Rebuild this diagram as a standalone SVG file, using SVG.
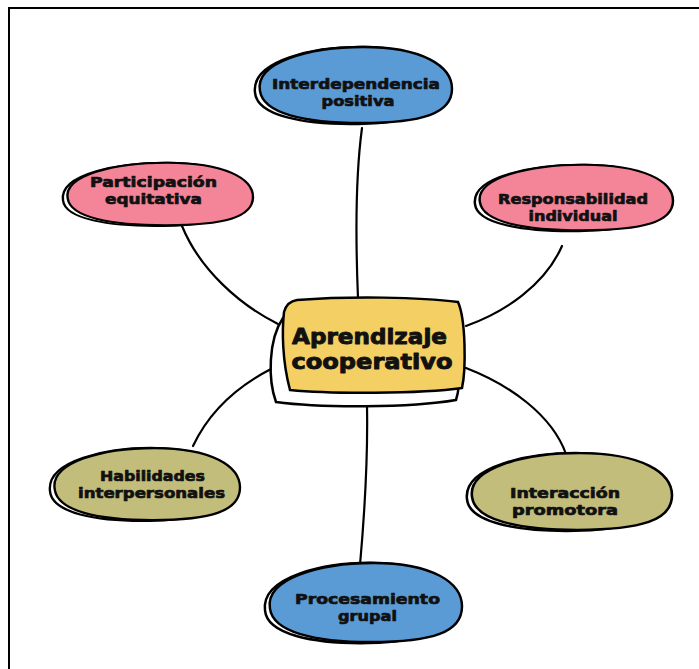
<svg xmlns="http://www.w3.org/2000/svg" width="699" height="669" viewBox="0 0 699 669">
<style>
.bg{fill:#ffffff}
.frame{fill:none;stroke:#000;stroke-width:2}
.back{fill:#fff;stroke:#000;stroke-width:2.5}
.front{stroke:#000;stroke-width:2.5}
.blue{fill:#5b9bd5}
.pink{fill:#f48599}
.olive{fill:#c2bd7a}
.yellow{fill:#f4cf63}
.conn path{fill:none;stroke:#000;stroke-width:2.2;stroke-linecap:round}
text{font-family:"DejaVu Sans","Liberation Sans",sans-serif;font-weight:bold;fill:#111;stroke:#111;stroke-width:0.7;stroke-linejoin:round;text-anchor:middle}
.lbl{font-size:14.5px}
.main{font-size:21px;stroke-width:0.9}
</style>
<defs>
<path id="blob" d="M -95,6 C -100,-24 -45,-40 10,-40 C 70,-40 100,-20 100,4 C 100,30 70,40 8,40 C -50,40 -92,30 -95,6 Z"/>
<path id="blobBack" d="M -100,8 C -104,-26 -40,-41 12,-40 C 60,-39 92,-24 92,0 C 92,28 60,40 5,41 C -52,42 -98,32 -100,8 Z"/>
</defs>
<rect class="bg" x="0" y="0" width="699" height="669"/>
<rect class="frame" x="9" y="8" width="720" height="700"/>
<g class="conn" id="connectors">
<path d="M 362,128 C 355,180 356,250 358,298"/>
<path d="M 182,226 C 200,270 240,305 278,324"/>
<path d="M 562,246 C 545,285 505,312 466,326"/>
<path d="M 193,446 C 210,410 240,385 271,369"/>
<path d="M 566,454 C 552,415 510,385 466,368"/>
<path d="M 367,406 C 368,460 364,520 360,565"/>
</g>
<g id="n-interdependencia">
<use href="#blobBack" class="back" transform="translate(353.5,85) scale(0.985,0.95)"/>
<use href="#blob" class="front blue" transform="translate(353.5,85) scale(0.985,0.95)"/>
<text class="lbl" x="356" y="89" textLength="168" lengthAdjust="spacingAndGlyphs">Interdependencia</text>
<text class="lbl" x="358" y="106" textLength="73" lengthAdjust="spacingAndGlyphs">positiva</text>
</g>
<g id="n-participacion">
<use href="#blobBack" class="back" transform="translate(158,194) scale(0.95,0.78)"/>
<use href="#blob" class="front pink" transform="translate(158,194) scale(0.95,0.78)"/>
<text class="lbl" x="153.5" y="187" textLength="127" lengthAdjust="spacingAndGlyphs">Participación</text>
<text class="lbl" x="153.5" y="204" textLength="97" lengthAdjust="spacingAndGlyphs">equitativa</text>
</g>
<g id="n-responsabilidad">
<use href="#blobBack" class="back" transform="translate(574,197.5) scale(0.99,0.82)"/>
<use href="#blob" class="front pink" transform="translate(574,197.5) scale(0.99,0.82)"/>
<text class="lbl" x="573" y="204" textLength="150" lengthAdjust="spacingAndGlyphs">Responsabilidad</text>
<text class="lbl" x="573" y="221" textLength="89" lengthAdjust="spacingAndGlyphs">individual</text>
</g>
<g id="n-habilidades">
<use href="#blobBack" class="back" transform="translate(145,484) scale(0.95,0.9)"/>
<use href="#blob" class="front olive" transform="translate(145,484) scale(0.95,0.9)"/>
<text class="lbl" x="152.5" y="481" textLength="105" lengthAdjust="spacingAndGlyphs">Habilidades</text>
<text class="lbl" x="151.5" y="498" textLength="147" lengthAdjust="spacingAndGlyphs">interpersonales</text>
</g>
<g id="n-interaccion">
<use href="#blobBack" class="back" transform="translate(569.5,491.5) scale(1.025,0.96)"/>
<use href="#blob" class="front olive" transform="translate(569.5,491.5) scale(1.025,0.96)"/>
<text class="lbl" x="565" y="498" textLength="110" lengthAdjust="spacingAndGlyphs">Interacción</text>
<text class="lbl" x="565" y="515" textLength="106" lengthAdjust="spacingAndGlyphs">promotora</text>
</g>
<g id="n-procesamiento">
<use href="#blobBack" class="back" transform="translate(363.5,602.5) scale(0.985,0.99)"/>
<use href="#blob" class="front blue" transform="translate(363.5,602.5) scale(0.985,0.99)"/>
<text class="lbl" x="367.5" y="604" textLength="145" lengthAdjust="spacingAndGlyphs">Procesamiento</text>
<text class="lbl" x="367.5" y="621" textLength="59" lengthAdjust="spacingAndGlyphs">grupal</text>
</g>
<g id="n-aprendizaje">
<path class="back" d="M 283,318 C 330,314 420,314 455,320 C 461,350 461,385 456,400 C 410,408 320,408 276,402 C 268,380 268,340 283,318 Z"/>
<path class="front yellow" d="M 297,300 C 350,296 420,297 458,302 C 466,320 466,370 462,388 C 420,394 330,394 290,390 C 282,360 282,330 284,312 C 286,305 290,301 297,300 Z"/>
<text class="main" x="369.5" y="344" textLength="155" lengthAdjust="spacingAndGlyphs">Aprendizaje</text>
<text class="main" x="372" y="369" textLength="161" lengthAdjust="spacingAndGlyphs">cooperativo</text>
</g>
</svg>
